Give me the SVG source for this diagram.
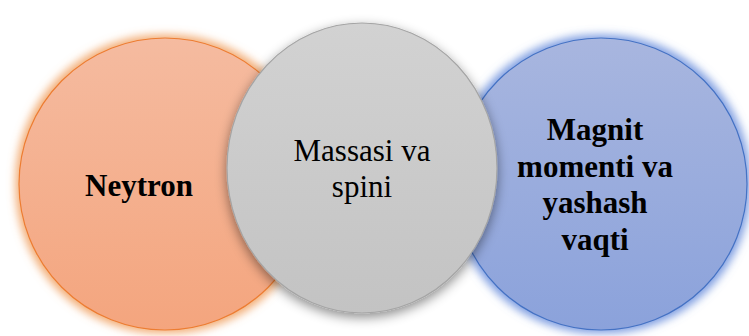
<svg xmlns="http://www.w3.org/2000/svg" width="749" height="336" viewBox="0 0 749 336">
  <defs>
    <linearGradient id="gOrange" x1="0" y1="0" x2="0" y2="1">
      <stop offset="0" stop-color="#F5BBA0"/>
      <stop offset="1" stop-color="#F4A57E"/>
    </linearGradient>
    <linearGradient id="gGray" x1="0" y1="0" x2="0" y2="1">
      <stop offset="0" stop-color="#D2D2D2"/>
      <stop offset="1" stop-color="#C3C3C3"/>
    </linearGradient>
    <linearGradient id="gBlue" x1="0" y1="0" x2="0" y2="1">
      <stop offset="0" stop-color="#A8B6DF"/>
      <stop offset="1" stop-color="#8BA2DB"/>
    </linearGradient>
    <filter id="glowOrange" x="-20%" y="-20%" width="140%" height="140%">
      <feMorphology in="SourceAlpha" operator="dilate" radius="3" result="d"/>
      <feGaussianBlur in="d" stdDeviation="4" result="b"/>
      <feFlood flood-color="#F0A060" flood-opacity="0.85"/>
      <feComposite in2="b" operator="in" result="g"/>
      <feMerge><feMergeNode in="g"/><feMergeNode in="SourceGraphic"/></feMerge>
    </filter>
    <filter id="glowBlue" x="-20%" y="-20%" width="140%" height="140%">
      <feMorphology in="SourceAlpha" operator="dilate" radius="3" result="d"/>
      <feGaussianBlur in="d" stdDeviation="4" result="b"/>
      <feFlood flood-color="#6A8EDC" flood-opacity="0.85"/>
      <feComposite in2="b" operator="in" result="g"/>
      <feMerge><feMergeNode in="g"/><feMergeNode in="SourceGraphic"/></feMerge>
    </filter>
    <filter id="shadowGray" x="-20%" y="-20%" width="140%" height="140%">
      <feGaussianBlur in="SourceAlpha" stdDeviation="6" result="b"/>
      <feOffset in="b" dy="4" result="o"/>
      <feFlood flood-color="#000000" flood-opacity="0.45"/>
      <feComposite in2="o" operator="in" result="s"/>
      <feMerge><feMergeNode in="s"/><feMergeNode in="SourceGraphic"/></feMerge>
    </filter>
  </defs>
  <style>
    .lbl { font-family: "Liberation Serif", "Times New Roman", serif; font-size: 31px; fill: #000; text-anchor: middle; }
    .b { font-weight: bold; }
  </style>
  <rect width="749" height="336" fill="#FFFFFF"/>
  <g id="node-neytron">
    <circle cx="165" cy="184" r="146" fill="url(#gOrange)" stroke="#ED7D31" stroke-width="1.2" filter="url(#glowOrange)"/>
    <text class="lbl b" x="139" y="196">Neytron</text>
  </g>
  <g id="node-magnit">
    <circle cx="601" cy="184" r="146" fill="url(#gBlue)" stroke="#4472C4" stroke-width="1.2" filter="url(#glowBlue)"/>
    <text class="lbl b" x="595" y="140">Magnit</text>
    <text class="lbl b" x="595" y="177">momenti va</text>
    <text class="lbl b" x="595" y="213">yashash</text>
    <text class="lbl b" x="595" y="250">vaqti</text>
  </g>
  <g id="node-massasi">
    <ellipse cx="362" cy="168" rx="135" ry="145" fill="url(#gGray)" stroke="#A5A5A5" stroke-width="1.2" filter="url(#shadowGray)"/>
    <text class="lbl" x="362" y="161">Massasi va</text>
    <text class="lbl" x="362" y="197">spini</text>
  </g>
  <g id="connectors"/>
</svg>
